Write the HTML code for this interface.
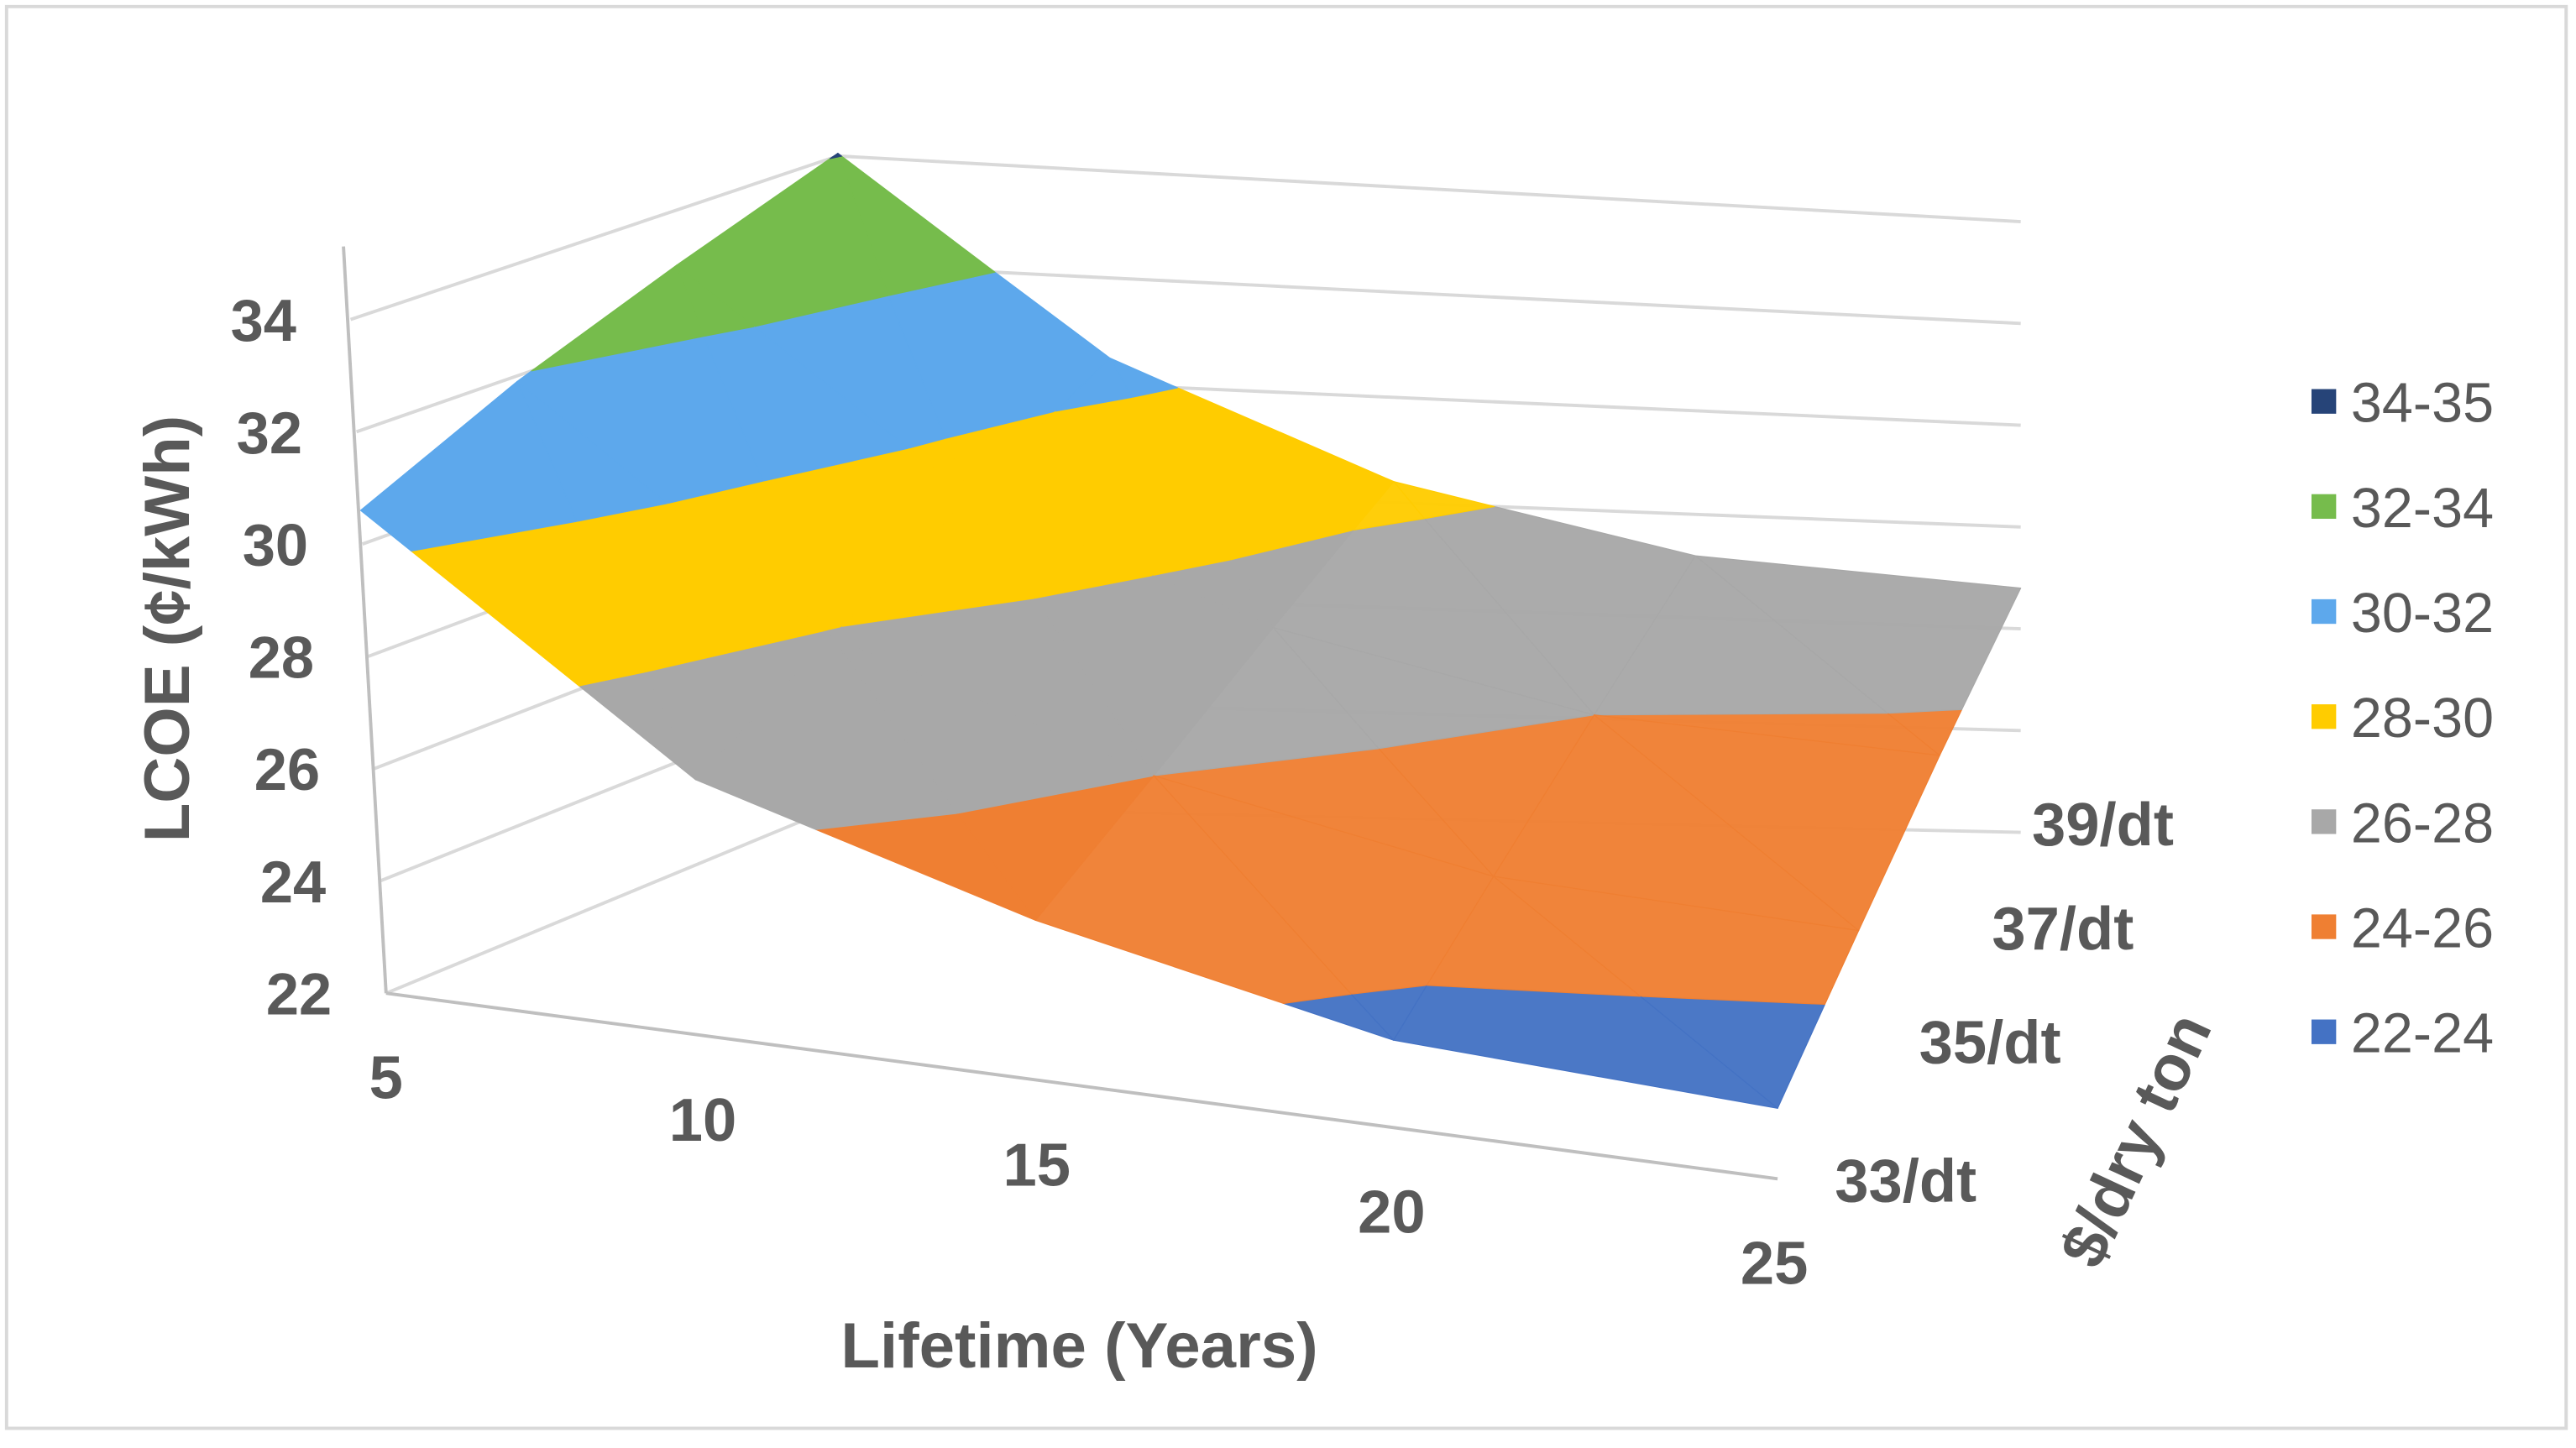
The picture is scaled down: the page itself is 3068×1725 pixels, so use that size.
<!DOCTYPE html>
<html><head><meta charset="utf-8"><style>
html,body{margin:0;padding:0;background:#fff;}
svg{display:block;}
text{font-family:"Liberation Sans",Arial,sans-serif;fill:#595959;}
</style></head><body>
<svg id="chart" width="3068" height="1725" viewBox="0 0 1568 882" preserveAspectRatio="none" xmlns="http://www.w3.org/2000/svg">
<rect x="4" y="4" width="1558" height="866" fill="#fff" stroke="#d9d9d9" stroke-width="2"/>
<g id="grid"></g>
<g id="surface"></g>
<g id="axes"></g>
<text x="657" y="833" font-size="39" font-weight="bold" text-anchor="middle">Lifetime (Years)</text>
<text transform="translate(115,383) rotate(-90)" font-size="39" font-weight="bold" text-anchor="middle">LCOE (¢/kWh)</text>
<text transform="translate(1312,700) rotate(-65)" font-size="39" font-weight="bold" text-anchor="middle">$/dry ton</text>
<g id="legend"></g>
</svg>
<script>
const lifetimes = [5, 10, 15, 20, 25];
const prices = ["33/dt", "35/dt", "37/dt", "39/dt"];
const zTicks = [22, 24, 26, 28, 30, 32, 34];
// LCOE values: rows = lifetime, columns = price (33,35,37,39)
const lcoe5  = [30.6, 31.9, 33.0, 34.05];
const lcoe10 = [26.6, 27.9, 29.2, 30.5];
const lcoe15 = [24.9, 26.0, 27.2, 28.4];
const lcoe20 = [23.6, 24.8, 26.0, 27.2];
const lcoe25 = [23.3, 24.5, 25.7, 26.8];
const bandLabels = ["22-24","24-26","26-28","28-30","30-32","32-34","34-35"];
const bandLo = [22, 24, 26, 28, 30, 32, 34];
const bandHi = [24, 26, 28, 30, 32, 34, 35];
const bandColors = ["#4472C4","#EF7F32","#A8A8A8","#FFCC00","#5DA8EC","#76BC4C","#264478"];

const grid = [lcoe5, lcoe10, lcoe15, lcoe20, lcoe25];
const NS = "http://www.w3.org/2000/svg";
const sFrac = [0, 0.23, 0.47, 0.725, 1];
const FL=[235,605], FR=[1082,718], BL=[510,491], BR=[1230,507];
const kFL=34.2, kFR=33, kBL=33, kBR=31;
function sOf(u){ const i=Math.min(Math.floor(u),sFrac.length-2), f=u-i; return sFrac[i]+f*(sFrac[i+1]-sFrac[i]); }
function proj(u, v, z){
  const s=sOf(u), t=v/(prices.length-1);
  const x=(1-s)*(1-t)*FL[0]+s*(1-t)*FR[0]+(1-s)*t*BL[0]+s*t*BR[0];
  const y=(1-s)*(1-t)*FL[1]+s*(1-t)*FR[1]+(1-s)*t*BL[1]+s*t*BR[1];
  const k=(1-s)*(1-t)*kFL+s*(1-t)*kFR+(1-s)*t*kBL+s*t*kBR;
  return [x - (z-22)*1.8*(1-s)*(1-t), y-(z-22)*k];
}
function mk(tag, attrs, parent){
  const e=document.createElementNS(NS,tag);
  for(const k in attrs) e.setAttribute(k, attrs[k]);
  parent.appendChild(e); return e;
}
const gG=document.getElementById('grid');
zTicks.forEach(z=>{
  const a=proj(0,0,z), b=proj(0,prices.length-1,z), c=proj(lifetimes.length-1,prices.length-1,z);
  const ln=mk('polyline',{points:`${a[0]},${a[1]} ${b[0]},${b[1]} ${c[0]},${c[1]}`,fill:'none',stroke:'#d9d9d9','stroke-width':2},gG);
  
  
});
function clip(poly, lim, above){
  const out=[];
  for(let i=0;i<poly.length;i++){
    const p=poly[i], q=poly[(i+1)%poly.length];
    const pin= above ? p[2]>=lim : p[2]<=lim;
    const qin= above ? q[2]>=lim : q[2]<=lim;
    if(pin) out.push(p);
    if(pin!==qin){
      const t=(lim-p[2])/(q[2]-p[2]);
      out.push([p[0]+t*(q[0]-p[0]),p[1]+t*(q[1]-p[1]),lim]);
    }
  }
  return out;
}
const sG=document.getElementById('surface');
for(let v=prices.length-2; v>=0; v--){
  for(let u=0; u<lifetimes.length-1; u++){
    const A=[u,v,grid[u][v]], B=[u+1,v,grid[u+1][v]], C=[u+1,v+1,grid[u+1][v+1]], D=[u,v+1,grid[u][v+1]];
    const shade = u>=2 ? 0.96 : 1;
    [[D,C,B],[D,B,A]].forEach(tri=>{
      bandLo.forEach((lo,bi)=>{
        let p=clip(tri,lo,true);
        if(p.length<3) return;
        p=clip(p,bandHi[bi]+(bi===bandLo.length-1?5:0),false);
        if(p.length<3) return;
        const pts=p.map(q=>proj(q[0],q[1],q[2]).join(',')).join(' ');
        const el=mk('polygon',{points:pts,fill:bandColors[bi],stroke:bandColors[bi],'stroke-width':0.6,'fill-opacity':shade,'stroke-linejoin':'round'},sG);
        
        
      });
    });
  }
}
const aG=document.getElementById('axes');
const z0=proj(0,0,22), zt=proj(0,0,35.3);
let ax=mk('line',{x1:z0[0],y1:z0[1],x2:zt[0]-2,y2:zt[1],stroke:'#bfbfbf','stroke-width':2},aG);
 
const f1=proj(lifetimes.length-1,0,22);
ax=mk('line',{x1:z0[0],y1:z0[1],x2:f1[0],y2:f1[1],stroke:'#bfbfbf','stroke-width':2},aG);
 
zTicks.forEach(z=>{
  const p=proj(0,0,z);
  const t=mk('text',{x:p[0]-33,y:p[1]+13,'font-size':36,'font-weight':'bold','text-anchor':'end'},aG);
  t.textContent=z;
   
});
lifetimes.forEach((l,i)=>{
  const p=proj(i,0,22);
  const t=mk('text',{x:p[0]+(i===0?0:-2),y:p[1]+64,'font-size':37,'font-weight':'bold','text-anchor':'middle'},aG);
  t.textContent=l;
   
});
const depthLabelDy=[14,0,1,8];
const depthLabelDx=[78,80,75,50];
prices.forEach((pr,i)=>{
  const p=proj(lifetimes.length-1,i,22);
  const t=mk('text',{x:p[0]+depthLabelDx[i],y:p[1]+depthLabelDy[i],'font-size':37,'font-weight':'bold','text-anchor':'middle'},aG);
  t.textContent=pr;
   
});
const lG=document.getElementById('legend');
for(let i=bandLabels.length-1, r=0; i>=0; i--, r++){
  const y=245+r*64;
  const sq=mk('rect',{x:1407,y:y-8,width:15,height:15,fill:bandColors[i]},lG);
   
  const t=mk('text',{x:1431,y:y+12,'font-size':34},lG);
  t.textContent=bandLabels[i];
   
}
</script>
</body></html>
